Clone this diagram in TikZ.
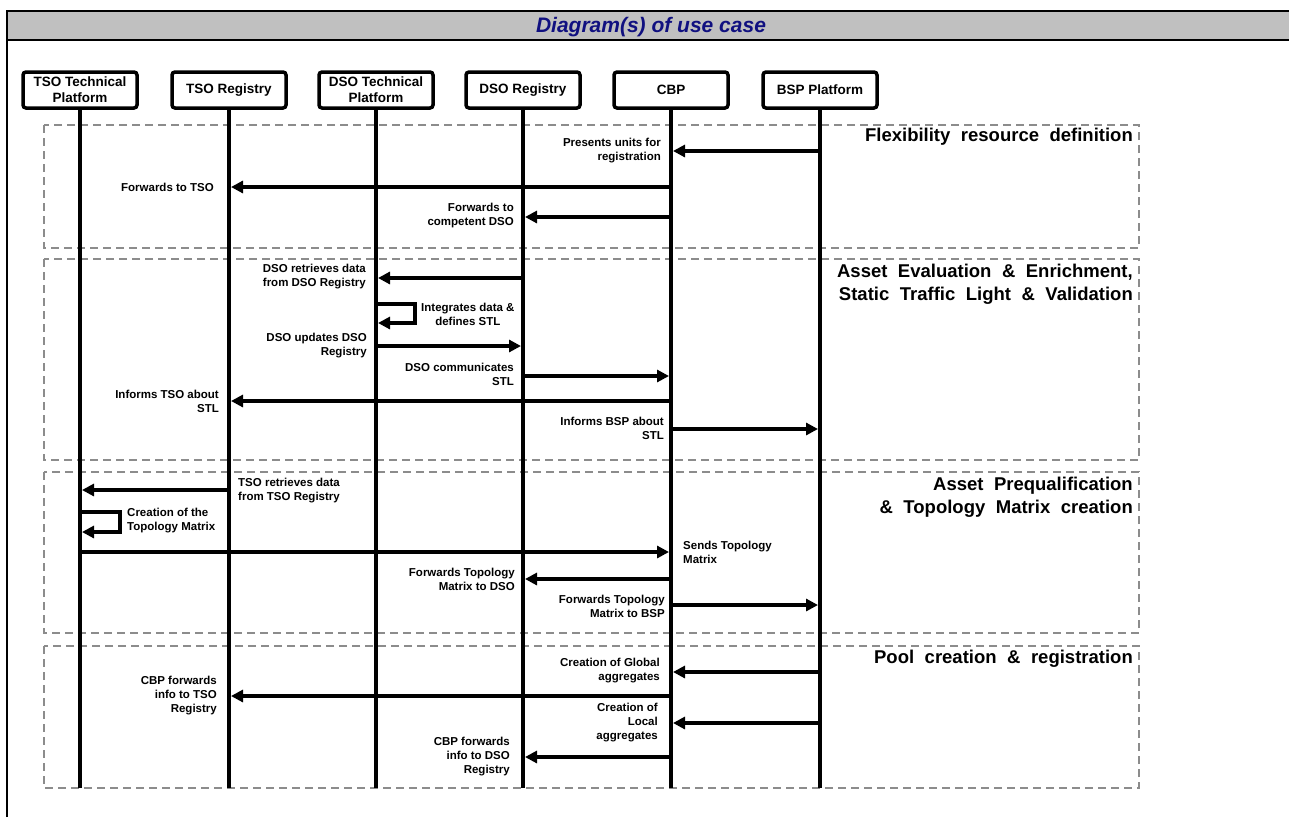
\documentclass[tikz,border=0pt]{standalone}
\usepackage{fontspec}
\setmainfont{Liberation Sans}
\usetikzlibrary{arrows.meta}

\definecolor{hdrgray}{RGB}{192,192,192}
\definecolor{hdrblue}{RGB}{16,16,128}
\definecolor{phasegray}{RGB}{140,140,140}

\tikzset{
  party/.style={draw, line width=3.5pt, rounded corners=3pt, fill=white,
    minimum width=114pt, minimum height=36pt, inner sep=0pt, align=center,
    font=\fontsize{13.5}{16}\selectfont\bfseries},
  lifeline/.style={line width=4pt},
  msg/.style={line width=4pt, -{Triangle[length=12pt,width=12pt]}, shorten >=2pt},
  lbl/.style={font=\fontsize{11.5}{14}\selectfont\bfseries, inner sep=0pt,
    align=right, anchor=east},
  lblL/.style={lbl, align=left, anchor=west},
  phase/.style={draw=phasegray, line width=1.5pt, dash pattern=on 8pt off 5pt},
  phasetitle/.style={font=\fontsize{18.5}{23}\selectfont\bfseries,
    execute at begin node={\spaceskip=10.5pt plus 1pt\relax},
    anchor=east, align=right, inner sep=0pt}
}

\begin{document}
\begin{tikzpicture}[x=1pt, y=-1pt]
\useasboundingbox (0,0) rectangle (1289,817);

% header band and outer frame
\fill[hdrgray] (7,11) rectangle (1289,40);
\draw[line width=2pt] (7,817) -- (7,11) -- (1289,11);
\draw[line width=2pt] (7,40) -- (1289,40);
\node[font=\fontsize{21}{21}\selectfont\bfseries\itshape, text=hdrblue, anchor=base, inner sep=0pt] (title) at (651,32) {Diagram(s) of use case};

% phases
\draw[phase] (44,125) rectangle (1139,248);
\draw[phase] (44,259) rectangle (1139,460);
\draw[phase] (44,472) rectangle (1139,633);
\draw[phase] (44,646) rectangle (1139,788);

\node[phasetitle] (ph1) at (1133,137) {Flexibility resource definition};
\node[phasetitle] (ph2) at (1133,284) {Asset Evaluation \& Enrichment,\\Static Traffic Light \& Validation};
\node[phasetitle] (ph3) at (1133,497) {Asset Prequalification\\\& Topology Matrix creation};
\node[phasetitle] (ph4) at (1133,659) {Pool creation \& registration};

% lifelines
\foreach \n/\x in {1/80, 2/229, 3/376, 4/523, 5/671, 6/820}
  \coordinate (e\n) at (\x,788);
\foreach \n in {1,...,6}
  \draw[lifeline] (e\n |- 0,100) -- (e\n);

% participants
\node[party] (b1) at (80,90)  {TSO Technical\\Platform};
\node[party] (b2) at (229,90) {TSO Registry};
\node[party] (b3) at (376,90) {DSO Technical\\Platform};
\node[party] (b4) at (523,90) {DSO Registry};
\node[party] (b5) at (671,90) {CBP};
\node[party] (b6) at (820,90) {BSP Platform};

% flexibility resource definition
\draw[msg] (b6 |- 0,151) -- (b5 |- 0,151);
\node[lbl, xshift=-10pt] (m1) at (b5 |- 0,151) {Presents units for\\registration};
\draw[msg] (b5 |- 0,187) -- (b2 |- 0,187);
\node[lbl, xshift=-15pt] (m2) at (b2 |- 0,187) {Forwards to TSO};
\draw[msg] (b5 |- 0,217) -- (b4 |- 0,217);
\node[lbl, xshift=-9pt] (m3) at (b4 |- 0,216) {Forwards to\\competent DSO};

% asset evaluation
\draw[msg] (b4 |- 0,278) -- (b3 |- 0,278);
\node[lbl, xshift=-10pt] (m4) at (b3 |- 0,277) {DSO retrieves data\\from DSO Registry};
\draw[msg] (b3 |- 0,304) -- ++(39,0) |- (b3 |- 0,323);
\node[lbl, anchor=west, align=center] (m5) at (421,314) {Integrates data \&\\defines STL};
\draw[msg] (b3 |- 0,346) -- (b4 |- 0,346);
\node[lbl, xshift=-9pt] (m6) at (b3 |- 0,346) {DSO updates DSO\\Registry};
\draw[msg] (b4 |- 0,376) -- (b5 |- 0,376);
\node[lbl, xshift=-9pt] (m7) at (b4 |- 0,374) {DSO communicates\\STL};
\draw[msg] (b5 |- 0,401) -- (b2 |- 0,401);
\node[lbl, xshift=-10pt] (m8) at (b2 |- 0,401) {Informs TSO about\\STL};
\draw[msg] (b5 |- 0,429) -- (b6 |- 0,429);
\node[lbl, xshift=-7pt] (m9) at (b5 |- 0,428) {Informs BSP about\\STL};

% asset prequalification
\draw[msg] (b2 |- 0,490) -- (b1 |- 0,490);
\node[lblL, xshift=9pt] (m10) at (b2 |- 0,491) {TSO retrieves data\\from TSO Registry};
\draw[msg] (b1 |- 0,512) -- ++(40,0) |- (b1 |- 0,532);
\node[lblL] (m11) at (127,521) {Creation of the\\Topology Matrix};
\draw[msg] (b1 |- 0,552) -- (b5 |- 0,552);
\node[lblL, xshift=12pt] (m12) at (b5 |- 0,552) {Sends Topology\\Matrix};
\draw[msg] (b5 |- 0,579) -- (b4 |- 0,579);
\node[lbl, xshift=-8pt] (m13) at (b4 |- 0,579) {Forwards Topology\\Matrix to DSO};
\draw[msg] (b5 |- 0,605) -- (b6 |- 0,605);
\node[lbl, xshift=-6pt] (m14) at (b5 |- 0,606) {Forwards Topology\\Matrix to BSP};

% pool creation
\draw[msg] (b6 |- 0,672) -- (b5 |- 0,672);
\node[lbl, xshift=-11pt] (m15) at (b5 |- 0,671) {Creation of Global\\aggregates};
\draw[msg] (b5 |- 0,696) -- (b2 |- 0,696);
\node[lbl, xshift=-12pt] (m16) at (b2 |- 0,696) {CBP forwards\\info to TSO\\Registry};
\draw[msg] (b6 |- 0,723) -- (b5 |- 0,723);
\node[lbl, xshift=-13pt] (m17) at (b5 |- 0,723) {Creation of\\Local\\aggregates};
\draw[msg] (b5 |- 0,757) -- (b4 |- 0,757);
\node[lbl, xshift=-13pt] (m18) at (b4 |- 0,757) {CBP forwards\\info to DSO\\Registry};
\end{tikzpicture}
\end{document}
